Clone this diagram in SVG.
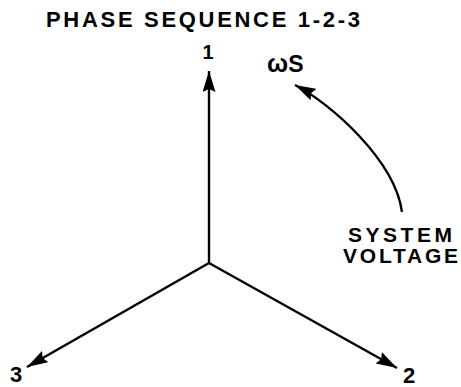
<svg xmlns="http://www.w3.org/2000/svg" width="461" height="387" viewBox="0 0 461 387">
<style>
text{font-family:"Liberation Sans",Arial,sans-serif;font-weight:bold;fill:#000}
.ln{stroke:#000;stroke-width:2.4;fill:none}
</style>
<defs>
<marker id="ah" markerUnits="userSpaceOnUse" markerWidth="22" markerHeight="13" refX="21" refY="6.5" orient="auto" viewBox="0 0 22 13">
<path d="M0,0 L21,6.5 L0,13 L3,6.5 z" fill="#000"/>
</marker>
</defs>
<g id="title"><text x="46" y="27" font-size="22" textLength="314" lengthAdjust="spacing">PHASE  SEQUENCE 1-2-3</text></g>
<g id="connectors">
<line class="ln" x1="209" y1="263" x2="209" y2="71" marker-end="url(#ah)"/>
<line class="ln" x1="209" y1="263" x2="27" y2="367" marker-end="url(#ah)"/>
<line class="ln" x1="209" y1="263" x2="397" y2="368" marker-end="url(#ah)"/>
<path class="ln" d="M402,212 C395,160 330,103 295,85" marker-end="url(#ah)"/>
</g>
<g id="n1"><text x="208" y="59" font-size="20" text-anchor="middle">1</text></g>
<g id="n2"><text x="403" y="383" font-size="22">2</text></g>
<g id="n3"><text x="10" y="382" font-size="22">3</text></g>
<g id="omega"><text x="267" y="72" font-size="25">ω<tspan font-size="23">S</tspan></text></g>
<g id="system-voltage">
<text font-size="21"><tspan x="348" y="242" textLength="104" lengthAdjust="spacing">SYSTEM</tspan><tspan x="343" y="263" textLength="115" lengthAdjust="spacing">VOLTAGE</tspan></text>
</g>
</svg>
